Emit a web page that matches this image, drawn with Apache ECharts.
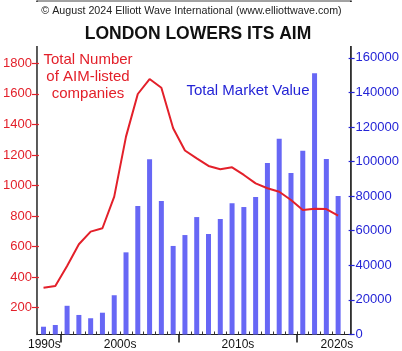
<!DOCTYPE html>
<html><head><meta charset="utf-8">
<script src="https://cdn.jsdelivr.net/npm/echarts@6/dist/echarts.min.js"></script>
<style>html,body{margin:0;padding:0;background:#fff}#c{width:402px;height:351px}</style>
</head><body><div id="c"></div>
<script>
const years = [1998,1999,2000,2001,2002,2003,2004,2005,2006,2007,2008,2009,2010,2011,2012,2013,2014,2015,2016,2017,2018,2019,2020,2021,2022,2023];
const marketValue = [4500,5500,16600,11300,9400,12600,22700,47500,74300,101300,77200,51200,57500,67900,58100,66800,75900,73700,79500,99200,113200,93400,106300,151000,101500,80100];
const companies = [331,342,473,615,698,720,927,1320,1599,1697,1640,1375,1229,1178,1128,1106,1119,1069,1014,982,959,905,840,848,846,802];
const leftTicks = [200,400,600,800,1000,1200,1400,1600,1800];
const rightTicks = [0,20000,40000,60000,80000,100000,120000,140000,160000];
const decadeLabels = ['1990s','2000s','2010s','2020s'];
const decadeLabelPos = [1998.07,2004.5,2014.5,2022.9];
const decadeTicks = [1999.5,2009.5,2019.5];

const minorTicks = [];
for (let i = 0; i <= years.length; i++) minorTicks.push(years[0] - 0.5 + i);

const RED = '#e3202a', BLUE = '#2424d6', BAR = '#6767f5';
const FONT = 'Liberation Sans, Arial, sans-serif';
const XMIN = 1997.44, XMAX = 2024.06;
const plain = v => String(Math.round(v));

const chart = echarts.init(document.getElementById('c'), null, {renderer:'canvas'});
chart.setOption({
  animation:false,
  grid:{left:35,right:48,top:1,bottom:16.5,show:true,borderColor:'#444',borderWidth:1,backgroundColor:'transparent'},
  xAxis:[
    {type:'value',min:XMIN,max:XMAX,position:'bottom',
     axisLine:{show:true,onZero:false,lineStyle:{color:'#222',width:1}},
     axisTick:{show:true,inside:true,length:3,customValues:minorTicks,lineStyle:{color:'#333'}},
     axisLabel:{show:false},splitLine:{show:false}},
    {type:'value',min:XMIN,max:XMAX,position:'bottom',
     axisLine:{show:false,onZero:false},
     axisTick:{show:true,inside:false,length:8,customValues:decadeTicks,lineStyle:{color:'#111',width:1.5}},
     axisLabel:{show:true,customValues:decadeLabelPos,margin:4,color:'#111',fontSize:12,fontFamily:FONT,
       formatter:function(v){let best=0;for(let i=0;i<decadeLabelPos.length;i++){if(Math.abs(decadeLabelPos[i]-v)<Math.abs(decadeLabelPos[best]-v))best=i;}return decadeLabels[best];}},
     splitLine:{show:false}}
  ],
  yAxis:[
    {type:'value',position:'left',min:24.5,max:2207.8,
     axisLine:{show:true,lineStyle:{color:'#444',width:1.5}},
     axisTick:{show:true,inside:false,length:5,customValues:leftTicks,lineStyle:{color:RED,width:1.2}},
     axisLabel:{show:true,customValues:leftTicks,margin:5,color:RED,fontSize:13,fontFamily:FONT,formatter:plain},
     splitLine:{show:false}},
    {type:'value',position:'right',min:0,max:192830,
     axisLine:{show:true,lineStyle:{color:'#222',width:1.5}},
     axisTick:{show:true,inside:false,length:4,customValues:rightTicks,lineStyle:{color:BLUE,width:1.2}},
     axisLabel:{show:true,customValues:rightTicks,margin:5,color:BLUE,fontSize:13,fontFamily:FONT,formatter:plain},
     splitLine:{show:false}},
    {type:'value',position:'left',min:24.5,max:2207.8,
     axisLine:{show:false},
     axisTick:{show:true,inside:true,length:2,customValues:leftTicks,lineStyle:{color:RED,width:1.2}},
     axisLabel:{show:false},splitLine:{show:false}},
    {type:'value',position:'right',min:0,max:192830,
     axisLine:{show:false},
     axisTick:{show:true,inside:true,length:2,customValues:rightTicks,lineStyle:{color:BLUE,width:1.2}},
     axisLabel:{show:false},splitLine:{show:false}}
  ],
  series:[
    {type:'bar',xAxisIndex:0,yAxisIndex:1,barWidth:5,itemStyle:{color:BAR},
     data:years.map((y,i)=>[y,marketValue[i]])},
    {type:'line',xAxisIndex:0,yAxisIndex:0,symbol:'none',lineStyle:{color:RED,width:2},
     data:years.map((y,i)=>[y,companies[i]])}
  ],
  graphic:[
    {type:'rect',shape:{x:36,y:2,width:317,height:44},style:{fill:'#fff'},z:10},
    {type:'text',x:191.5,y:11,z:11,style:{text:'© August 2024 Elliott Wave International (www.elliottwave.com)',font:'10.7px '+FONT,fill:'#222',align:'center',verticalAlign:'middle'}},
    {type:'text',x:198,y:34,z:11,style:{text:'LONDON LOWERS ITS AIM',font:'bold 17.5px '+FONT,fill:'#111',align:'center',verticalAlign:'middle'}},
    {type:'text',x:88,y:77,z:11,style:{text:'Total Number\nof AIM-listed\ncompanies',font:'15px '+FONT,lineHeight:17,fill:RED,align:'center',verticalAlign:'middle'}},
    {type:'text',x:248,y:91,z:11,style:{text:'Total Market Value',font:'15px '+FONT,fill:BLUE,align:'center',verticalAlign:'middle'}}
  ]
});
</script></body></html>
